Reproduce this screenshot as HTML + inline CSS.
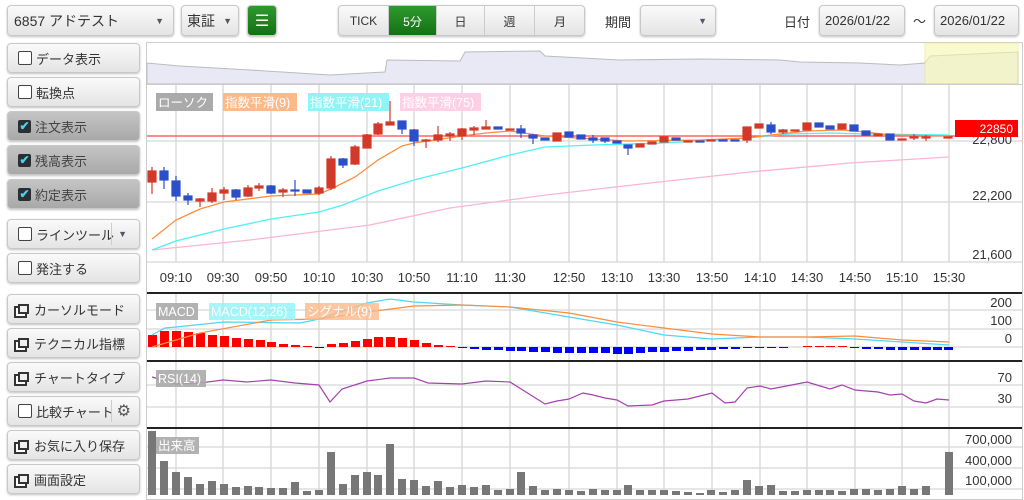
<!DOCTYPE html>
<html><head><meta charset="utf-8"><style>
body{margin:0;width:1024px;height:500px;background:#fff;font-family:"Liberation Sans","Noto Sans CJK JP",sans-serif;position:relative;overflow:hidden}
.b{position:absolute;box-sizing:border-box;border:1px solid #c8c8c8;border-radius:4px;background:linear-gradient(#fafafa,#e4e4e4);box-shadow:0 1px 2px rgba(0,0,0,.25);font-size:13px;color:#333;display:flex;align-items:center}
.side{left:7px;width:133px;height:30px;padding-left:10px}
.dk{background:linear-gradient(#c4c4c4,#a9a9a9);color:#444}
.cb{width:12px;height:12px;border:1px solid #444;border-radius:2px;background:#fff;margin-right:4px;flex:none}
.ck{width:13px;height:13px;border-radius:2px;background:#2a2f33;margin-right:4px;flex:none;color:#4fd0e8;font-size:12px;line-height:13px;text-align:center;font-weight:bold}
.wi{width:11px;height:10px;border:2px solid #333;box-sizing:border-box;margin-right:5px;position:relative;flex:none;box-shadow:-3px 3px 0 -1px #fff,-3px 3px 0 1px #333}
.tab{position:absolute;top:6px;height:30px;font-size:12px;display:flex;align-items:center;justify-content:center;border-right:1px solid #ccc;box-sizing:border-box}
</style></head><body>
<div class="b" style="left:7px;top:5px;width:167px;height:31px;padding-left:6px;font-size:14px">6857 アドテスト<span style="position:absolute;right:9px;font-size:9px;color:#556">▼</span></div>
<div class="b" style="left:181px;top:5px;width:58px;height:31px;padding-left:5px;font-size:14px">東証<span style="position:absolute;right:6px;font-size:9px;color:#556">▼</span></div>
<div class="b" style="left:247px;top:5px;width:30px;height:31px;background:linear-gradient(#2e9a2e,#137013);justify-content:center;color:#fff;font-size:16px">☰</div>
<div class="b" style="left:338px;top:5px;width:247px;height:31px;overflow:hidden">
<div class="tab" style="left:0;top:0;width:50px">TICK</div>
<div class="tab" style="left:50px;top:0;width:48px;background:linear-gradient(#2e9a2e,#137013);color:#fff">5分</div>
<div class="tab" style="left:98px;top:0;width:48px">日</div>
<div class="tab" style="left:146px;top:0;width:50px">週</div>
<div class="tab" style="left:196px;top:0;width:50px;border:none">月</div></div>
<div style="position:absolute;left:605px;top:12px;font-size:13px;color:#333">期間</div>
<div class="b" style="left:640px;top:5px;width:76px;height:31px"><span style="position:absolute;right:8px;font-size:9px;color:#556">▼</span></div>
<div style="position:absolute;left:784px;top:12px;font-size:13px;color:#333">日付</div>
<div class="b" style="left:819px;top:5px;width:86px;height:31px;padding-left:5px;font-size:13px">2026/01/22</div>
<div style="position:absolute;left:913px;top:11px;font-size:13px;color:#333">～</div>
<div class="b" style="left:934px;top:5px;width:85px;height:31px;padding-left:5px;font-size:13px">2026/01/22</div>

<div class="b side" style="top:43px"><span class="cb"></span>データ表示</div>
<div class="b side" style="top:77px"><span class="cb"></span>転換点</div>
<div class="b side dk" style="top:111px"><span class="ck">✔</span>注文表示</div>
<div class="b side dk" style="top:145px"><span class="ck">✔</span>残高表示</div>
<div class="b side dk" style="top:179px"><span class="ck">✔</span>約定表示</div>
<div class="b side" style="top:219px"><span class="cb"></span>ラインツール<span style="position:absolute;left:103px;top:3px;bottom:3px;border-left:1px solid #ccc"></span><span style="position:absolute;right:12px;font-size:9px;color:#556">▼</span></div>
<div class="b side" style="top:253px"><span class="cb"></span>発注する</div>
<div class="b side" style="top:294px"><span class="wi"></span>カーソルモード</div>
<div class="b side" style="top:328px"><span class="wi"></span>テクニカル指標</div>
<div class="b side" style="top:362px"><span class="wi"></span>チャートタイプ</div>
<div class="b side" style="top:396px"><span class="cb"></span>比較チャート<span style="position:absolute;left:103px;top:3px;bottom:3px;border-left:1px solid #ccc"></span><span style="position:absolute;right:8px;font-size:16px;color:#555">⚙</span></div>
<div class="b side" style="top:430px"><span class="wi"></span>お気に入り保存</div>
<div class="b side" style="top:464px"><span class="wi"></span>画面設定</div>

<svg style="position:absolute;left:0;top:0" width="1024" height="500" font-family="Liberation Sans, Noto Sans CJK JP, sans-serif">
<rect x="146.5" y="42.5" width="876" height="457" fill="none" stroke="#ccc"/>
<path d="M147,84 L147,63 L180,66 L250,70 L330,75 L385,72 L387,60 L460,61 L465,52 L540,51 L545,56 L620,60 L700,59 L780,60 L800,62 L860,63 L900,65 L925,63 L930,56 L1018,52 L1018,84Z" fill="#e9e9f6" stroke="#bbb" stroke-width="1"/>
<rect x="925" y="43" width="93" height="41" fill="#f8f8b0" opacity=".6" stroke="#e5e58a"/>
<line x1="147" y1="84.5" x2="1022" y2="84.5" stroke="#ccc"/>
<g stroke="#d6d6d6" stroke-width="1.3">
<path d="M176,85V262M223,85V262M271,85V262M319,85V262M367,85V262M414,85V262M462,85V262M510,85V262M569,85V262M617,85V262M664,85V262M712,85V262M760,85V262M807,85V262M855,85V262M902,85V262M949,85V262"/>
<path d="M176,294V495M223,294V495M271,294V495M319,294V495M367,294V495M414,294V495M462,294V495M510,294V495M569,294V495M617,294V495M664,294V495M712,294V495M760,294V495M807,294V495M855,294V495M902,294V495M949,294V495"/>
<path d="M147,141H1022M147,202H1022M147,262H1022M147,310H1022M147,329H1022M147,347H1022M147,385H1022M147,407H1022M147,447H1022M147,468H1022M147,489H1022"/>
</g>
<line x1="147" y1="136" x2="955" y2="136" stroke="#f44" stroke-width="1.3"/>
<g stroke="#222" stroke-width="2"><path d="M147,293H1022M147,361H1022M147,428H1022"/></g>
<polyline fill="none" stroke="#ffb3d4" stroke-width="1.3" points="152,250 250,240 370,225 450,208 546,195 650,183 750,172 850,163 949,157"/>
<polyline fill="none" stroke="#4ef0f5" stroke-width="1.3" points="152,250 176,241 224,229 271,219 319,212 343,205 378,191 414,180 462,168 510,155 545,147 593,145 664,143 700,141 747,138 790,134 830,133 866,134 949,135"/>
<polyline fill="none" stroke="#fd8c3c" stroke-width="1.3" points="152,239 176,220 200,209 224,202 271,196 319,194 331,189 355,177 378,160 402,146 414,143 462,136 486,133 510,131 545,136 593,139 628,141 700,140 747,138 771,135 807,131 842,130 866,132 890,135 949,136"/>
<g stroke-width="1.2">
<g fill="#d13a2a" stroke="#d13a2a">
<line x1="152" y1="167" x2="152" y2="194"/><rect x="148" y="171" width="8" height="11"/>
<line x1="200" y1="198" x2="200" y2="207"/><rect x="196" y="199" width="8" height="2"/>
<line x1="212" y1="188" x2="212" y2="203"/><rect x="208" y="193" width="8" height="8"/>
<line x1="224" y1="187" x2="224" y2="200"/><rect x="220" y="190" width="8" height="3"/>
<line x1="248" y1="185" x2="248" y2="197"/><rect x="244" y="188" width="8" height="8"/>
<line x1="259" y1="183" x2="259" y2="191"/><rect x="255" y="186" width="8" height="2"/>
<line x1="283" y1="188" x2="283" y2="197"/><rect x="279" y="190" width="8" height="2"/>
<line x1="319" y1="186" x2="319" y2="195"/><rect x="315" y="188" width="8" height="5"/>
<line x1="331" y1="156" x2="331" y2="190"/><rect x="327" y="159" width="8" height="29"/>
<line x1="355" y1="145" x2="355" y2="165"/><rect x="351" y="147" width="8" height="17"/>
<line x1="367" y1="134" x2="367" y2="148"/><rect x="363" y="135" width="8" height="13"/>
<line x1="378" y1="122" x2="378" y2="135"/><rect x="374" y="124" width="8" height="10"/>
<line x1="390" y1="101" x2="390" y2="125"/><rect x="386" y="122" width="8" height="3"/>
<line x1="426" y1="139" x2="426" y2="148"/><rect x="422" y="140" width="8" height="1"/>
<line x1="438" y1="126" x2="438" y2="142"/><rect x="434" y="135" width="8" height="5"/>
<line x1="450" y1="132" x2="450" y2="141"/><rect x="446" y="134" width="8" height="2"/>
<line x1="462" y1="128" x2="462" y2="140"/><rect x="458" y="129" width="8" height="7"/>
<line x1="474" y1="126" x2="474" y2="135"/><rect x="470" y="128" width="8" height="2"/>
<line x1="486" y1="120" x2="486" y2="129"/><rect x="482" y="127" width="8" height="2"/>
<rect x="506" y="129" width="8" height="1"/>
<rect x="553" y="133" width="8" height="8"/>
<rect x="636" y="144" width="8" height="3"/>
<rect x="648" y="142" width="8" height="2"/>
<rect x="660" y="137" width="8" height="5"/>
<rect x="684" y="141" width="8" height="1"/>
<rect x="707" y="140" width="8" height="1"/>
<line x1="747" y1="127" x2="747" y2="143"/><rect x="743" y="127" width="8" height="13"/>
<rect x="755" y="124" width="8" height="4"/>
<line x1="783" y1="129" x2="783" y2="134"/><rect x="779" y="130" width="8" height="2"/>
<rect x="791" y="130" width="8" height="1"/>
<rect x="803" y="123" width="8" height="7"/>
<rect x="838" y="124" width="8" height="5"/>
<rect x="874" y="134" width="8" height="2"/>
<rect x="898" y="139" width="8" height="1"/>
<line x1="914" y1="134" x2="914" y2="140"/><rect x="910" y="137" width="8" height="1"/>
<line x1="926" y1="135" x2="926" y2="141"/><rect x="922" y="137" width="8" height="1"/>
<rect x="944" y="137" width="8" height="1"/>
</g>
<g fill="#2a4fc8" stroke="#2a4fc8">
<line x1="164" y1="167" x2="164" y2="189"/><rect x="160" y="171" width="8" height="9"/>
<line x1="176" y1="176" x2="176" y2="201"/><rect x="172" y="181" width="8" height="15"/>
<line x1="188" y1="193" x2="188" y2="205"/><rect x="184" y="196" width="8" height="4"/>
<line x1="236" y1="189" x2="236" y2="200"/><rect x="232" y="190" width="8" height="7"/>
<line x1="271" y1="185" x2="271" y2="194"/><rect x="267" y="186" width="8" height="7"/>
<line x1="295" y1="180" x2="295" y2="196"/><rect x="291" y="190" width="8" height="1"/>
<rect x="303" y="190" width="8" height="3"/>
<line x1="343" y1="158" x2="343" y2="168"/><rect x="339" y="159" width="8" height="6"/>
<line x1="402" y1="121" x2="402" y2="134"/><rect x="398" y="121" width="8" height="8"/>
<line x1="414" y1="129" x2="414" y2="146"/><rect x="410" y="130" width="8" height="11"/>
<rect x="494" y="127" width="8" height="2"/>
<line x1="521" y1="125" x2="521" y2="138"/><rect x="517" y="129" width="8" height="4"/>
<line x1="533" y1="134" x2="533" y2="144"/><rect x="529" y="135" width="8" height="3"/>
<rect x="541" y="138" width="8" height="2"/>
<rect x="565" y="132" width="8" height="5"/>
<rect x="577" y="135" width="8" height="4"/>
<line x1="593" y1="135" x2="593" y2="143"/><rect x="589" y="138" width="8" height="2"/>
<line x1="605" y1="138" x2="605" y2="143"/><rect x="601" y="138" width="8" height="3"/>
<rect x="613" y="141" width="8" height="2"/>
<line x1="628" y1="145" x2="628" y2="155"/><rect x="624" y="145" width="8" height="3"/>
<rect x="672" y="138" width="8" height="2"/>
<rect x="696" y="141" width="8" height="1"/>
<rect x="719" y="140" width="8" height="1"/>
<rect x="731" y="140" width="8" height="1"/>
<line x1="771" y1="122" x2="771" y2="134"/><rect x="767" y="125" width="8" height="7"/>
<rect x="815" y="123" width="8" height="4"/>
<rect x="826" y="126" width="8" height="3"/>
<rect x="850" y="125" width="8" height="6"/>
<rect x="862" y="131" width="8" height="4"/>
<rect x="886" y="134" width="8" height="6"/>
</g></g>
<g font-size="12.5" fill="#fff">
<rect x="156" y="93" width="57" height="18" fill="#aaa"/><text x="158" y="107">ローソク</text>
<rect x="223" y="93" width="74" height="18" fill="#fdb98a"/><text x="225" y="107">指数平滑(9)</text>
<rect x="308" y="93" width="81" height="18" fill="#8ff3f7"/><text x="310" y="107">指数平滑(21)</text>
<rect x="400" y="93" width="81" height="18" fill="#ffd0e4"/><text x="402" y="107">指数平滑(75)</text>
</g>
<g font-size="13" fill="#333" text-anchor="end">
<text x="1012" y="144">22,800</text>
<text x="1012" y="200">22,200</text><text x="1012" y="259">21,600</text>
<text x="1012" y="307">200</text><text x="1012" y="325">100</text><text x="1012" y="343">0</text>
<text x="1012" y="382">70</text><text x="1012" y="403">30</text>
<text x="1012" y="444">700,000</text><text x="1012" y="465">400,000</text><text x="1012" y="485">100,000</text>
</g>
<rect x="955" y="120" width="63" height="17" fill="#f00"/><text x="1013" y="133" font-size="12" fill="#fff" text-anchor="end">22850</text>
<g font-size="13" fill="#333" text-anchor="middle">
<text x="176" y="282">09:10</text><text x="223" y="282">09:30</text><text x="271" y="282">09:50</text><text x="319" y="282">10:10</text><text x="367" y="282">10:30</text><text x="414" y="282">10:50</text><text x="462" y="282">11:10</text><text x="510" y="282">11:30</text><text x="569" y="282">12:50</text><text x="617" y="282">13:10</text><text x="664" y="282">13:30</text><text x="712" y="282">13:50</text><text x="760" y="282">14:10</text><text x="807" y="282">14:30</text><text x="855" y="282">14:50</text><text x="902" y="282">15:10</text><text x="949" y="282">15:30</text>
</g>
<g fill="#f00">
<rect x="148" y="335" width="9" height="12"/><rect x="160" y="331" width="9" height="16"/><rect x="172" y="331" width="9" height="16"/><rect x="184" y="332" width="9" height="15"/><rect x="196" y="333" width="9" height="14"/><rect x="208" y="335" width="9" height="12"/><rect x="220" y="336" width="9" height="11"/><rect x="232" y="338" width="9" height="9"/><rect x="244" y="339" width="9" height="8"/><rect x="256" y="340" width="9" height="7"/><rect x="267" y="342" width="9" height="5"/><rect x="279" y="344" width="9" height="3"/><rect x="291" y="345" width="9" height="2"/><rect x="303" y="346" width="9" height="1"/>
<rect x="327" y="344" width="9" height="3"/><rect x="339" y="343" width="9" height="4"/><rect x="351" y="341" width="9" height="6"/><rect x="363" y="339" width="9" height="8"/><rect x="374" y="337" width="9" height="10"/><rect x="386" y="337" width="9" height="10"/><rect x="398" y="338" width="9" height="9"/><rect x="410" y="340" width="9" height="7"/><rect x="422" y="343" width="9" height="4"/><rect x="434" y="345" width="9" height="2"/><rect x="446" y="346" width="9" height="1"/>
<rect x="803" y="346" width="9" height="1"/><rect x="815" y="346" width="9" height="1"/><rect x="826" y="346" width="9" height="1"/><rect x="838" y="346" width="9" height="1"/>
</g>
<g fill="#00f">
<rect x="315" y="347" width="9" height="1"/>
<rect x="458" y="347" width="9" height="1"/><rect x="470" y="347" width="9" height="2"/><rect x="482" y="347" width="9" height="3"/><rect x="494" y="347" width="9" height="3"/><rect x="506" y="347" width="9" height="4"/><rect x="517" y="347" width="9" height="4"/><rect x="529" y="347" width="9" height="5"/><rect x="541" y="347" width="9" height="5"/><rect x="553" y="347" width="9" height="6"/><rect x="565" y="347" width="9" height="6"/><rect x="577" y="347" width="9" height="6"/><rect x="589" y="347" width="9" height="6"/><rect x="601" y="347" width="9" height="6"/><rect x="613" y="347" width="9" height="7"/><rect x="624" y="347" width="9" height="7"/><rect x="636" y="347" width="9" height="6"/><rect x="648" y="347" width="9" height="5"/><rect x="660" y="347" width="9" height="5"/><rect x="672" y="347" width="9" height="4"/><rect x="684" y="347" width="9" height="4"/><rect x="696" y="347" width="9" height="3"/><rect x="707" y="347" width="9" height="3"/><rect x="719" y="347" width="9" height="2"/><rect x="731" y="347" width="9" height="2"/><rect x="743" y="347" width="9" height="1"/><rect x="755" y="347" width="9" height="1"/><rect x="767" y="347" width="9" height="1"/><rect x="779" y="347" width="9" height="1"/>
<rect x="850" y="347" width="9" height="1"/><rect x="862" y="347" width="9" height="2"/><rect x="874" y="347" width="9" height="2"/><rect x="886" y="347" width="9" height="3"/><rect x="898" y="347" width="9" height="3"/><rect x="910" y="347" width="9" height="3"/><rect x="922" y="347" width="9" height="3"/><rect x="933" y="347" width="9" height="3"/><rect x="944" y="347" width="9" height="3"/>
</g>
<polyline fill="none" stroke="#4fd6f5" stroke-width="1.2" points="152,335 165,328 176,327 224,322 300,323 319,319 367,303 390,299 414,302 462,305 510,307 569,317 617,325 664,335 712,339 760,337 807,337 855,339 902,342 949,345"/>
<polyline fill="none" stroke="#fd8c3c" stroke-width="1.2" points="152,347 200,333 271,320 319,319 367,312 414,306 462,305 510,307 569,313 617,322 664,328 712,334 760,337 807,337 855,336 902,340 949,342"/>
<g font-size="12.5" fill="#fff">
<rect x="156" y="303" width="42" height="17" fill="#aaa" opacity=".9"/><text x="158" y="316">MACD</text>
<rect x="209" y="303" width="86" height="17" fill="#8ff3f7" opacity=".8"/><text x="211" y="316">MACD(12,26)</text>
<rect x="305" y="303" width="74" height="17" fill="#fdb98a" opacity=".8"/><text x="307" y="316">シグナル(9)</text>
</g>
<polyline fill="none" stroke="#a640b0" stroke-width="1.2" points="152,377 176,384 200,383 223,380 247,382 271,380 295,383 319,385 330,402 342,389 367,381 390,378 414,378 428,383 462,384 486,381 510,382 545,404 557,401 569,399 583,393 593,395 605,398 617,400 628,406 652,405 664,401 688,399 700,396 712,393 725,403 735,402 747,388 760,386 771,389 807,382 830,389 842,385 855,390 878,392 890,395 902,394 914,401 926,403 937,399 949,400"/>
<rect x="156" y="370" width="50" height="17" fill="#aaa" opacity=".9"/><text x="158" y="383" font-size="12.5" fill="#fff">RSI(14)</text>
<g fill="#777">
<rect x="148" y="431" width="8" height="64"/><rect x="160" y="461" width="8" height="34"/><rect x="172" y="472" width="8" height="23"/><rect x="184" y="477" width="8" height="18"/><rect x="196" y="484" width="8" height="11"/><rect x="208" y="481" width="8" height="14"/><rect x="220" y="484" width="8" height="11"/><rect x="232" y="487" width="8" height="8"/><rect x="244" y="486" width="8" height="9"/><rect x="255" y="487" width="8" height="8"/><rect x="267" y="488" width="8" height="7"/><rect x="279" y="488" width="8" height="7"/><rect x="291" y="482" width="8" height="13"/><rect x="303" y="491" width="8" height="4"/><rect x="315" y="490" width="8" height="5"/><rect x="327" y="452" width="8" height="43"/><rect x="339" y="484" width="8" height="11"/><rect x="351" y="475" width="8" height="20"/><rect x="363" y="472" width="8" height="23"/><rect x="374" y="475" width="8" height="20"/><rect x="386" y="444" width="8" height="51"/><rect x="398" y="479" width="8" height="16"/><rect x="410" y="480" width="8" height="15"/><rect x="422" y="486" width="8" height="9"/><rect x="434" y="481" width="8" height="14"/><rect x="446" y="487" width="8" height="8"/><rect x="458" y="485" width="8" height="10"/><rect x="470" y="487" width="8" height="8"/><rect x="482" y="485" width="8" height="10"/><rect x="494" y="490" width="8" height="5"/><rect x="506" y="489" width="8" height="6"/>
<rect x="517" y="472" width="8" height="23"/><rect x="529" y="486" width="8" height="9"/><rect x="541" y="490" width="8" height="5"/><rect x="553" y="489" width="8" height="6"/><rect x="565" y="490" width="8" height="5"/><rect x="577" y="491" width="8" height="4"/><rect x="589" y="489" width="8" height="6"/><rect x="601" y="490" width="8" height="5"/><rect x="613" y="490" width="8" height="5"/><rect x="624" y="485" width="8" height="10"/><rect x="636" y="490" width="8" height="5"/><rect x="648" y="490" width="8" height="5"/><rect x="660" y="490" width="8" height="5"/><rect x="672" y="491" width="8" height="4"/><rect x="684" y="492" width="8" height="3"/><rect x="696" y="493" width="8" height="2"/><rect x="707" y="490" width="8" height="5"/><rect x="719" y="492" width="8" height="3"/><rect x="731" y="490" width="8" height="5"/><rect x="743" y="480" width="8" height="15"/><rect x="755" y="486" width="8" height="9"/><rect x="767" y="485" width="8" height="10"/><rect x="779" y="491" width="8" height="4"/><rect x="791" y="491" width="8" height="4"/><rect x="803" y="490" width="8" height="5"/><rect x="815" y="490" width="8" height="5"/><rect x="826" y="490" width="8" height="5"/><rect x="838" y="491" width="8" height="4"/><rect x="850" y="489" width="8" height="6"/><rect x="862" y="489" width="8" height="6"/><rect x="874" y="490" width="8" height="5"/><rect x="886" y="489" width="8" height="6"/><rect x="898" y="486" width="8" height="9"/><rect x="910" y="489" width="8" height="6"/><rect x="922" y="486" width="8" height="9"/><rect x="945" y="452" width="8" height="43"/>
</g>
<rect x="156" y="437" width="43" height="17" fill="#aaa" opacity=".9"/><text x="158" y="450" font-size="12.5" fill="#fff">出来高</text>
</svg>
</body></html>
